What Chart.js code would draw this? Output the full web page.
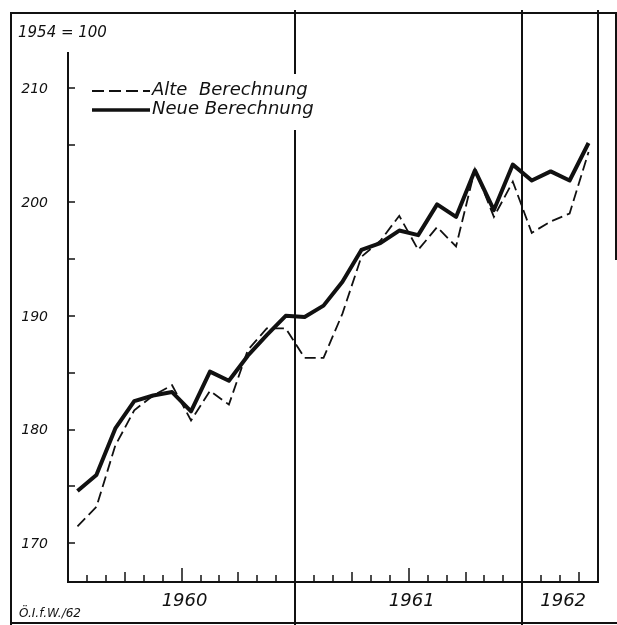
<!DOCTYPE html>
<html>
<head>
<meta charset="utf-8">
<script src="https://cdn.jsdelivr.net/npm/chart.js@4.4.0/dist/chart.umd.min.js"></script>
<style>
  html, body { margin: 0; padding: 0; background: #fff; }
</style>
</head>
<body>
<canvas id="chart" width="617" height="625"></canvas>
<script>
// monthly index values, Jan 1960 .. Apr 1962
const months = [
  'Jan 1960', 'Feb 1960', 'Mär 1960', 'Apr 1960', 'Mai 1960', 'Jun 1960',
  'Jul 1960', 'Aug 1960', 'Sep 1960', 'Okt 1960', 'Nov 1960', 'Dez 1960',
  'Jan 1961', 'Feb 1961', 'Mär 1961', 'Apr 1961', 'Mai 1961', 'Jun 1961',
  'Jul 1961', 'Aug 1961', 'Sep 1961', 'Okt 1961', 'Nov 1961', 'Dez 1961',
  'Jan 1962', 'Feb 1962', 'Mär 1962', 'Apr 1962'
];
const alteBerechnung = [
  171.5, 173.2, 178.6, 181.7, 183.0, 183.9, 180.8, 183.4, 182.2, 187.0, 188.9, 188.9,
  186.3, 186.3, 190.2, 195.2, 196.6, 198.8, 195.8, 197.8, 196.1, 202.9, 198.7, 201.8,
  197.3, 198.3, 199.0, 204.4
];
const neueBerechnung = [
  174.6, 176.0, 180.1, 182.5, 183.0, 183.3, 181.6, 185.1, 184.3, 186.5, 188.3, 190.0,
  189.9, 190.9, 193.0, 195.8, 196.4, 197.5, 197.1, 199.8, 198.7, 202.8, 199.3, 203.3,
  201.9, 202.7, 201.9, 205.2
];
const years = ['1960', '1961', '1962'];
const yearStarts = [0, 12, 24];
const yTickLabels = [170, 180, 190, 200, 210];
const seriesNames = ['Alte  Berechnung', 'Neue Berechnung'];

const ink = '#111';
const font = '"DejaVu Sans", sans-serif';

function line(ctx, x1, y1, x2, y2) {
  ctx.beginPath();
  ctx.moveTo(x1, y1);
  ctx.lineTo(x2, y2);
  ctx.stroke();
}

const framePlugin = {
  id: 'frame',
  beforeDatasetsDraw(chart) {
    const {ctx, chartArea: a, scales: {x, y}} = chart;
    ctx.save();
    ctx.strokeStyle = ink;
    ctx.lineWidth = 2;

    // outer frame of the print
    line(ctx, 10, 13, 616, 13);
    line(ctx, 11, 12, 11, 625);
    line(ctx, 616, 12, 616, 260);
    line(ctx, 11, 623, 617, 623);

    // year separators and right border
    yearStarts.slice(1).forEach(m => {
      const px = Math.round(x.getPixelForValue(m));
      line(ctx, px, 10, px, 625);
    });
    line(ctx, a.right, 10, a.right, a.bottom + 1);

    // axes
    line(ctx, a.left, a.top, a.left, a.bottom + 1);
    line(ctx, a.left - 1, a.bottom, a.right, a.bottom);

    // month ticks, pointing up
    ctx.lineWidth = 1.5;
    for (let m = 1; m < months.length; m++) {
      if (m % 12 === 0) continue;
      const len = m % 6 === 0 ? 14 : (m % 3 === 0 ? 10 : 7);
      const px = Math.round(x.getPixelForValue(m));
      line(ctx, px, a.bottom, px, a.bottom - len);
    }
    // value ticks every 5, pointing right
    for (let v = 170; v <= 210; v += 5) {
      const py = Math.round(y.getPixelForValue(v));
      line(ctx, a.left, py, a.left + 7, py);
    }

    // white box behind the legend
    ctx.fillStyle = '#fff';
    ctx.fillRect(84, 74, 240, 56);

    // labels
    ctx.fillStyle = ink;
    ctx.font = 'italic 14px ' + font;
    ctx.textAlign = 'right';
    ctx.textBaseline = 'middle';
    yTickLabels.forEach(v => ctx.fillText(String(v), 48, y.getPixelForValue(v) + 1));

    ctx.font = 'italic 18px ' + font;
    ctx.textAlign = 'center';
    years.forEach((yr, i) => {
      const end = i + 1 < yearStarts.length ? yearStarts[i + 1] : months.length;
      const cx = (x.getPixelForValue(yearStarts[i]) + x.getPixelForValue(end)) / 2;
      ctx.fillText(yr, cx + 3, 601);
    });

    ctx.textAlign = 'left';
    ctx.font = 'italic 15px ' + font;
    ctx.fillText('1954 = 100', 18, 33);
    ctx.font = 'italic 12px ' + font;
    ctx.fillText('Ö.I.f.W./62', 19, 614);

    // legend
    ctx.font = 'italic 18px ' + font;
    ctx.fillText(seriesNames[0], 152, 90);
    ctx.fillText(seriesNames[1], 152, 109);
    ctx.lineWidth = 2;
    ctx.setLineDash([12, 5]);
    line(ctx, 92, 91, 150, 91);
    ctx.setLineDash([]);
    ctx.lineWidth = 3.5;
    line(ctx, 92, 110, 150, 110);
    ctx.restore();
  }
};

new Chart(document.getElementById('chart'), {
  type: 'line',
  data: {
    datasets: [
      {
        label: seriesNames[1],
        data: neueBerechnung.map((v, i) => ({x: i + 0.5, y: v})),
        borderColor: ink,
        borderWidth: 4,
        pointRadius: 0,
        tension: 0,
        borderJoinStyle: 'round'
      },
      {
        label: seriesNames[0],
        data: alteBerechnung.map((v, i) => ({x: i + 0.5, y: v})),
        borderColor: ink,
        borderWidth: 1.8,
        borderDash: [11, 5],
        pointRadius: 0,
        tension: 0
      }
    ]
  },
  options: {
    responsive: false,
    animation: false,
    devicePixelRatio: 1,
    layout: {
      autoPadding: false,
      padding: {left: 68, right: 19, top: 52, bottom: 43}
    },
    scales: {
      x: {type: 'linear', min: 0, max: months.length, display: false},
      y: {min: 166.6, max: 213.2, display: false}
    },
    plugins: {
      legend: {display: false},
      tooltip: {enabled: false}
    }
  },
  plugins: [framePlugin]
});
</script>
</body>
</html>
